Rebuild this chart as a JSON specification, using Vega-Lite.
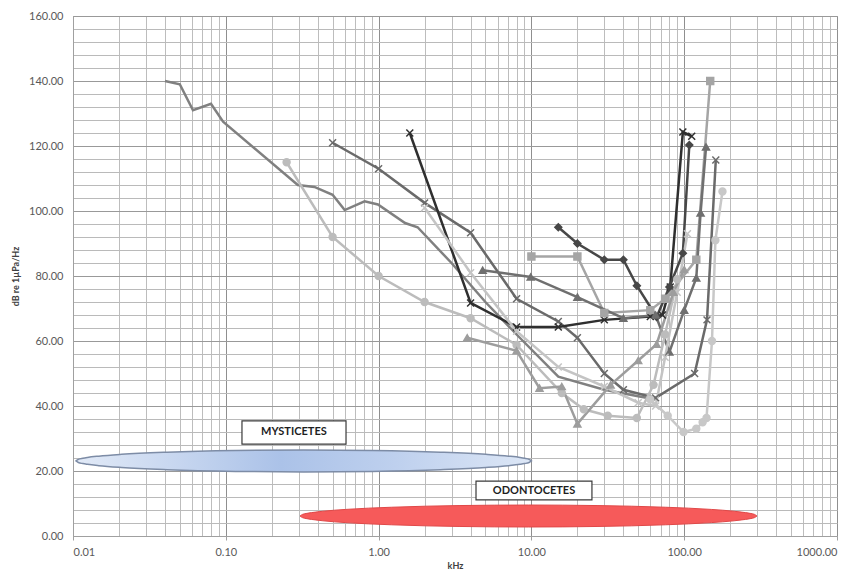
{
  "$schema": "https://vega.github.io/schema/vega-lite/v6.json",
  "width": 764,
  "height": 520,
  "autosize": {"type": "none"},
  "padding": {"left": 73, "top": 16, "right": 21, "bottom": 40},
  "background": "white",
  "config": {
    "view": {"stroke": "#a0a0a0", "strokeWidth": 1},
    "font": "Lato"
  },
  "datasets": {
    "blue": [
      {"f": 0.01047, "db": 23.1, "db2": 23.1},
      {"f": 0.01084, "db": 23.58, "db2": 22.62},
      {"f": 0.01161, "db": 23.92, "db2": 22.28},
      {"f": 0.01243, "db": 24.16, "db2": 22.05},
      {"f": 0.01476, "db": 24.57, "db2": 21.63},
      {"f": 0.0208, "db": 25.13, "db2": 21.07},
      {"f": 0.0413, "db": 25.8, "db2": 20.4},
      {"f": 0.1156, "db": 26.32, "db2": 19.88},
      {"f": 0.3236, "db": 26.48, "db2": 19.72},
      {"f": 0.9057, "db": 26.32, "db2": 19.88},
      {"f": 2.535, "db": 25.8, "db2": 20.4},
      {"f": 5.035, "db": 25.13, "db2": 21.07},
      {"f": 7.096, "db": 24.57, "db2": 21.63},
      {"f": 8.425, "db": 24.16, "db2": 22.05},
      {"f": 9.016, "db": 23.92, "db2": 22.28},
      {"f": 9.66, "db": 23.58, "db2": 22.62},
      {"f": 10.0, "db": 23.1, "db2": 23.1}
    ],
    "red": [
      {"f": 0.3062, "db": 6.15, "db2": 6.15},
      {"f": 0.317, "db": 6.63, "db2": 5.67},
      {"f": 0.3396, "db": 6.97, "db2": 5.33},
      {"f": 0.3639, "db": 7.2, "db2": 5.1},
      {"f": 0.432, "db": 7.62, "db2": 4.68},
      {"f": 0.6095, "db": 8.18, "db2": 4.12},
      {"f": 1.213, "db": 8.85, "db2": 3.45},
      {"f": 3.408, "db": 9.37, "db2": 2.93},
      {"f": 9.572, "db": 9.53, "db2": 2.77},
      {"f": 26.89, "db": 9.37, "db2": 2.93},
      {"f": 75.51, "db": 8.85, "db2": 3.45},
      {"f": 150.3, "db": 8.18, "db2": 4.12},
      {"f": 212.1, "db": 7.62, "db2": 4.68},
      {"f": 251.8, "db": 7.2, "db2": 5.1},
      {"f": 269.8, "db": 6.97, "db2": 5.33},
      {"f": 289.1, "db": 6.63, "db2": 5.67},
      {"f": 299.2, "db": 6.15, "db2": 6.15}
    ],
    "boxes": [
      {"f": 0.1276, "f2": 0.612, "db": 35.4, "db2": 28.3},
      {"f": 4.34, "f2": 24.9, "db": 16.9, "db2": 11.1}
    ],
    "labels": [
      {"f": 0.279, "db": 31.85, "t": "MYSTICETES"},
      {"f": 10.4, "db": 14.0, "t": "ODONTOCETES"}
    ],
    "audio": [
      {"s": "S1", "f": 0.04, "db": 140}, {"s": "S1", "f": 0.05, "db": 139}, {"s": "S1", "f": 0.061, "db": 131}, {"s": "S1", "f": 0.08, "db": 133}, {"s": "S1", "f": 0.096, "db": 127.5}, {"s": "S1", "f": 0.296, "db": 108}, {"s": "S1", "f": 0.38, "db": 107.4}, {"s": "S1", "f": 0.5, "db": 105}, {"s": "S1", "f": 0.6, "db": 100.3}, {"s": "S1", "f": 0.81, "db": 103}, {"s": "S1", "f": 0.99, "db": 102}, {"s": "S1", "f": 1.49, "db": 96.3}, {"s": "S1", "f": 1.8, "db": 95}, {"s": "S1", "f": 3, "db": 84}, {"s": "S1", "f": 5, "db": 72}, {"s": "S1", "f": 8, "db": 62}, {"s": "S1", "f": 15, "db": 49}, {"s": "S1", "f": 30, "db": 45}, {"s": "S1", "f": 50, "db": 43}, {"s": "S1", "f": 65, "db": 42},
      {"s": "S2", "f": 0.5, "db": 121}, {"s": "S2", "f": 1, "db": 113}, {"s": "S2", "f": 2, "db": 102.5}, {"s": "S2", "f": 4, "db": 93.3}, {"s": "S2", "f": 8, "db": 73}, {"s": "S2", "f": 15, "db": 66}, {"s": "S2", "f": 20, "db": 61}, {"s": "S2", "f": 30, "db": 50}, {"s": "S2", "f": 40, "db": 45}, {"s": "S2", "f": 65, "db": 42.5}, {"s": "S2", "f": 117, "db": 50}, {"s": "S2", "f": 141, "db": 66.5}, {"s": "S2", "f": 161, "db": 115.7},
      {"s": "S3", "f": 1.6, "db": 124}, {"s": "S3", "f": 4, "db": 71.7}, {"s": "S3", "f": 8, "db": 64.3}, {"s": "S3", "f": 15, "db": 64.3}, {"s": "S3", "f": 30, "db": 66.5}, {"s": "S3", "f": 60, "db": 67.5}, {"s": "S3", "f": 72, "db": 68}, {"s": "S3", "f": 81, "db": 76.6}, {"s": "S3", "f": 98, "db": 124.3}, {"s": "S3", "f": 112, "db": 123},
      {"s": "S4", "f": 15, "db": 95}, {"s": "S4", "f": 20, "db": 90}, {"s": "S4", "f": 30, "db": 85}, {"s": "S4", "f": 40, "db": 85}, {"s": "S4", "f": 49, "db": 77}, {"s": "S4", "f": 66, "db": 67.4}, {"s": "S4", "f": 80, "db": 76.6}, {"s": "S4", "f": 98, "db": 87}, {"s": "S4", "f": 108, "db": 120.3},
      {"s": "S5", "f": 10, "db": 86}, {"s": "S5", "f": 20, "db": 86}, {"s": "S5", "f": 30, "db": 68.6}, {"s": "S5", "f": 60, "db": 69.5}, {"s": "S5", "f": 75, "db": 73}, {"s": "S5", "f": 120, "db": 85}, {"s": "S5", "f": 148, "db": 140},
      {"s": "S6", "f": 4.8, "db": 81.8}, {"s": "S6", "f": 9.9, "db": 79.7}, {"s": "S6", "f": 20, "db": 73.5}, {"s": "S6", "f": 40, "db": 67}, {"s": "S6", "f": 65, "db": 68}, {"s": "S6", "f": 80, "db": 56.6}, {"s": "S6", "f": 100, "db": 69.5}, {"s": "S6", "f": 120, "db": 79.4}, {"s": "S6", "f": 128, "db": 99.4}, {"s": "S6", "f": 139, "db": 119.7},
      {"s": "S7", "f": 0.25, "db": 115}, {"s": "S7", "f": 0.5, "db": 92}, {"s": "S7", "f": 1, "db": 80}, {"s": "S7", "f": 2, "db": 72}, {"s": "S7", "f": 4, "db": 67}, {"s": "S7", "f": 8, "db": 58.8}, {"s": "S7", "f": 15.8, "db": 44}, {"s": "S7", "f": 22, "db": 39}, {"s": "S7", "f": 31.6, "db": 37}, {"s": "S7", "f": 49, "db": 36.3}, {"s": "S7", "f": 63, "db": 46.5}, {"s": "S7", "f": 75, "db": 62}, {"s": "S7", "f": 90, "db": 79},
      {"s": "S8", "f": 60, "db": 42}, {"s": "S8", "f": 78, "db": 37}, {"s": "S8", "f": 99, "db": 32}, {"s": "S8", "f": 120, "db": 33}, {"s": "S8", "f": 132, "db": 35}, {"s": "S8", "f": 140, "db": 36.3}, {"s": "S8", "f": 152, "db": 60}, {"s": "S8", "f": 160, "db": 91}, {"s": "S8", "f": 178, "db": 106},
      {"s": "S9", "f": 2, "db": 101}, {"s": "S9", "f": 4, "db": 81}, {"s": "S9", "f": 8, "db": 63}, {"s": "S9", "f": 15, "db": 52}, {"s": "S9", "f": 30, "db": 46}, {"s": "S9", "f": 50, "db": 41}, {"s": "S9", "f": 65, "db": 40}, {"s": "S9", "f": 75, "db": 55}, {"s": "S9", "f": 90, "db": 75}, {"s": "S9", "f": 105, "db": 93},
      {"s": "S10", "f": 3.8, "db": 61}, {"s": "S10", "f": 8, "db": 57}, {"s": "S10", "f": 11.3, "db": 45.5}, {"s": "S10", "f": 15.8, "db": 46}, {"s": "S10", "f": 20, "db": 34.5}, {"s": "S10", "f": 33, "db": 46.5}, {"s": "S10", "f": 50, "db": 54}, {"s": "S10", "f": 66, "db": 59}, {"s": "S10", "f": 85, "db": 75}, {"s": "S10", "f": 100, "db": 82}
    ]
  },
  "encoding": {
    "x": {
      "field": "f",
      "type": "quantitative",
      "scale": {"type": "log", "domain": [0.01, 1000], "nice": false},
      "axis": {
        "title": "kHz",
        "titleFont": "Lato",
        "titleFontSize": 9,
        "titleFontWeight": "bold",
        "titleColor": "#404040",
        "titlePadding": 4,
        "values": [0.01, 0.02, 0.03, 0.04, 0.05, 0.06, 0.07, 0.08, 0.09, 0.1, 0.2, 0.3, 0.4, 0.5, 0.6, 0.7, 0.8, 0.9, 1, 2, 3, 4, 5, 6, 7, 8, 9, 10, 20, 30, 40, 50, 60, 70, 80, 90, 100, 200, 300, 400, 500, 600, 700, 800, 900, 1000],
        "labelExpr": "indexof([0.01,0.1,1,10,100,1000], datum.value) >= 0 ? format(datum.value, '.2f') : ''",
        "labelOverlap": false,
        "labelFont": "Lato",
        "labelFontSize": 11,
        "labelColor": "#595959",
        "labelPadding": 6,
        "ticks": true,
        "tickSize": 4,
        "tickColor": {"condition": {"test": "indexof([0.01,0.1,1,10,100,1000], datum.value) >= 0", "value": "#a0a0a0"}, "value": "rgba(0,0,0,0)"},
        "grid": true,
        "gridColor": {"condition": {"test": "indexof([0.01,0.1,1,10,100,1000], datum.value) >= 0", "value": "#8f8f8f"}, "value": "#bdbdbd"},
        "gridWidth": 1,
        "domainColor": "#a0a0a0"
      }
    },
    "y": {
      "field": "db",
      "type": "quantitative",
      "scale": {"domain": [0, 160], "nice": false},
      "axis": {
        "title": "dB re 1µPa/Hz",
        "titleFont": "Lato",
        "titleFontSize": 9,
        "titleFontWeight": "bold",
        "titleColor": "#404040",
        "titlePadding": 8,
        "values": [0, 4, 8, 12, 16, 20, 24, 28, 32, 36, 40, 44, 48, 52, 56, 60, 64, 68, 72, 76, 80, 84, 88, 92, 96, 100, 104, 108, 112, 116, 120, 124, 128, 132, 136, 140, 144, 148, 152, 156, 160],
        "labelExpr": "datum.value % 20 === 0 ? format(datum.value, '.2f') : ''",
        "labelOverlap": false,
        "labelFont": "Lato",
        "labelFontSize": 11,
        "labelColor": "#595959",
        "labelPadding": 10,
        "ticks": false,
        "grid": true,
        "gridColor": {"condition": {"test": "datum.value % 20 === 0", "value": "#999999"}, "value": "#bababa"},
        "gridWidth": 1,
        "domainColor": "#a0a0a0"
      }
    }
  },
  "layer": [
    {
      "data": {"name": "blue"},
      "mark": {
        "type": "area",
        "interpolate": "monotone",
        "orient": "vertical",
        "stroke": "#7d8ca6",
        "strokeWidth": 1.5,
        "fill": {"gradient": "linear", "x1": 0, "y1": 0, "x2": 1, "y2": 0, "stops": [{"offset": 0, "color": "#e2eaf7"}, {"offset": 0.45, "color": "#abc2e8"}, {"offset": 0.7, "color": "#bed0ee"}, {"offset": 1, "color": "#dde7f6"}]}
      },
      "encoding": {"y2": {"field": "db2"}}
    },
    {
      "data": {"name": "red"},
      "mark": {
        "type": "area",
        "interpolate": "monotone",
        "orient": "vertical",
        "stroke": "#e04848",
        "strokeWidth": 1,
        "fill": "#f65a5a"
      },
      "encoding": {"y2": {"field": "db2"}}
    },
    {
      "data": {"name": "audio"},
      "mark": {"type": "line", "strokeWidth": 2.5, "interpolate": "linear"},
      "encoding": {
        "color": {"field": "s", "type": "nominal", "legend": null,
          "scale": {"domain": ["S1", "S2", "S3", "S4", "S5", "S6", "S7", "S8", "S9", "S10"],
                    "range": ["#808080", "#6a6a6a", "#2f2f2f", "#474747", "#a5a5a5", "#6f6f6f", "#bcbcbc", "#c8c8c8", "#c4c4c4", "#9d9d9d"]}},
        "order": {"field": "f", "type": "quantitative"}
      }
    },
    {
      "data": {"name": "audio"},
      "transform": [{"filter": "datum.s !== 'S1'"}],
      "mark": {"type": "point", "filled": true, "size": 48, "strokeWidth": 1.5, "opacity": 1},
      "encoding": {
        "color": {"field": "s", "type": "nominal", "legend": null,
          "scale": {"domain": ["S1", "S2", "S3", "S4", "S5", "S6", "S7", "S8", "S9", "S10"],
                    "range": ["#808080", "#6a6a6a", "#2f2f2f", "#474747", "#a5a5a5", "#6f6f6f", "#bcbcbc", "#c8c8c8", "#c4c4c4", "#9d9d9d"]}},
        "stroke": {"field": "s", "type": "nominal", "legend": null,
          "scale": {"domain": ["S1", "S2", "S3", "S4", "S5", "S6", "S7", "S8", "S9", "S10"],
                    "range": ["#808080", "#6a6a6a", "#2f2f2f", "#474747", "#a5a5a5", "#6f6f6f", "#bcbcbc", "#c8c8c8", "#c4c4c4", "#9d9d9d"]}},
        "shape": {"field": "s", "type": "nominal", "legend": null,
          "scale": {"domain": ["S1", "S2", "S3", "S4", "S5", "S6", "S7", "S8", "S9", "S10"],
                    "range": ["circle", "M-1,-1L1,1M-1,1L1,-1", "M-1,-1L1,1M-1,1L1,-1", "diamond", "square", "triangle-up", "circle", "circle", "M-1,-1L1,1M-1,1L1,-1", "triangle-up"]}}
      }
    },
    {
      "data": {"name": "boxes"},
      "mark": {"type": "rect", "fill": "white", "stroke": "#3a3a3a", "strokeWidth": 1.2},
      "encoding": {"x2": {"field": "f2"}, "y2": {"field": "db2"}}
    },
    {
      "data": {"name": "labels"},
      "mark": {"type": "text", "font": "Lato", "fontSize": 11, "fontWeight": "bold", "color": "#1e1e1e", "align": "center", "baseline": "middle"},
      "encoding": {"text": {"field": "t"}}
    }
  ]
}
